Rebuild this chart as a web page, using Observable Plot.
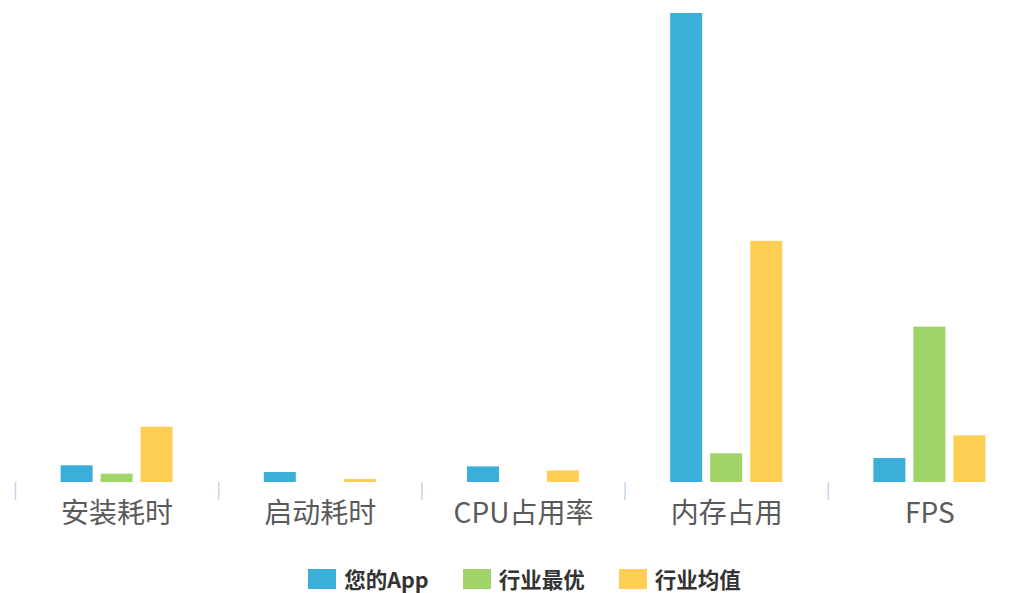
<!DOCTYPE html>
<html>
<head>
<meta charset="utf-8">
<script src="https://cdn.jsdelivr.net/npm/d3@7"></script>
<script src="https://cdn.jsdelivr.net/npm/@observablehq/plot@0.6"></script>
<style>
  html, body { margin: 0; padding: 0; background: #fff; width: 1023px; height: 593px; overflow: hidden; }
  #chart svg { display: block; overflow: hidden; }
  #legend { box-sizing: border-box; display: flex; justify-content: center; align-items: center; height: 38px; padding-top: 9px; padding-left: 26px;
    font-family: "Noto Sans CJK SC", "Noto Sans", sans-serif; font-weight: bold; font-size: 21.5px; line-height: 1; color: #333; }
  .item { display: flex; align-items: center; margin: 0 17px; }
  .sw { width: 28px; height: 20px; margin-right: 8px; }
</style>
</head>
<body>
<div id="chart"></div>
<div id="legend"></div>
<script>
const categories = ["安装耗时", "启动耗时", "CPU占用率", "内存占用", "FPS"];
const seriesNames = ["您的App", "行业最优", "行业均值"];
const yourApp = [16.7, 10, 15.6, 468.7, 24];
const industryBest = [8.3, 0, 0, 28.7, 155.3];
const industryAvg = [55.3, 3, 11.6, 241, 46.7];
const colors = ["#3bafda", "#a0d468", "#ffce54"];

const seriesValues = [yourApp, industryBest, industryAvg];
const data = [];
categories.forEach((c, i) => {
  seriesNames.forEach((s, j) => data.push({category: c, series: s, value: seriesValues[j][i]}));
});

const width = 1023, height = 555, marginLeft = 15, marginRight = -8, marginTop = 13, marginBottom = 73;
const band = (width - marginLeft - marginRight) / categories.length;

const plot = Plot.plot({
  width, height, marginLeft, marginRight, marginTop, marginBottom,
  style: {background: "transparent", fontFamily: "'Noto Sans CJK SC', 'Noto Sans', sans-serif"},
  fx: {domain: categories, padding: 0, round: false, axis: null},
  x: {domain: seriesNames, paddingInner: 0.2, paddingOuter: 1.14, round: false, axis: null},
  y: {domain: [0, 468.7], axis: null},
  color: {domain: seriesNames, range: colors},
  marks: [
    Plot.barY(data, {fx: "category", x: "series", y: "value", fill: "series"}),
    Plot.axisFx({anchor: "bottom", tickSize: 18, text: null, dx: -band / 2, stroke: "#c3d4ea", strokeWidth: 1.5, label: null}),
    Plot.axisFx({anchor: "bottom", tickSize: 0, tickPadding: 21, fontSize: 28, fill: "#5a5a5a", label: null})
  ]
});
document.getElementById("chart").appendChild(plot);

const legend = document.getElementById("legend");
seriesNames.forEach((s, i) => {
  const item = document.createElement("div");
  item.className = "item";
  const sw = document.createElement("div");
  sw.className = "sw";
  sw.style.background = colors[i];
  const t = document.createElement("span");
  t.textContent = s;
  item.appendChild(sw);
  item.appendChild(t);
  legend.appendChild(item);
});
</script>
</body>
</html>
